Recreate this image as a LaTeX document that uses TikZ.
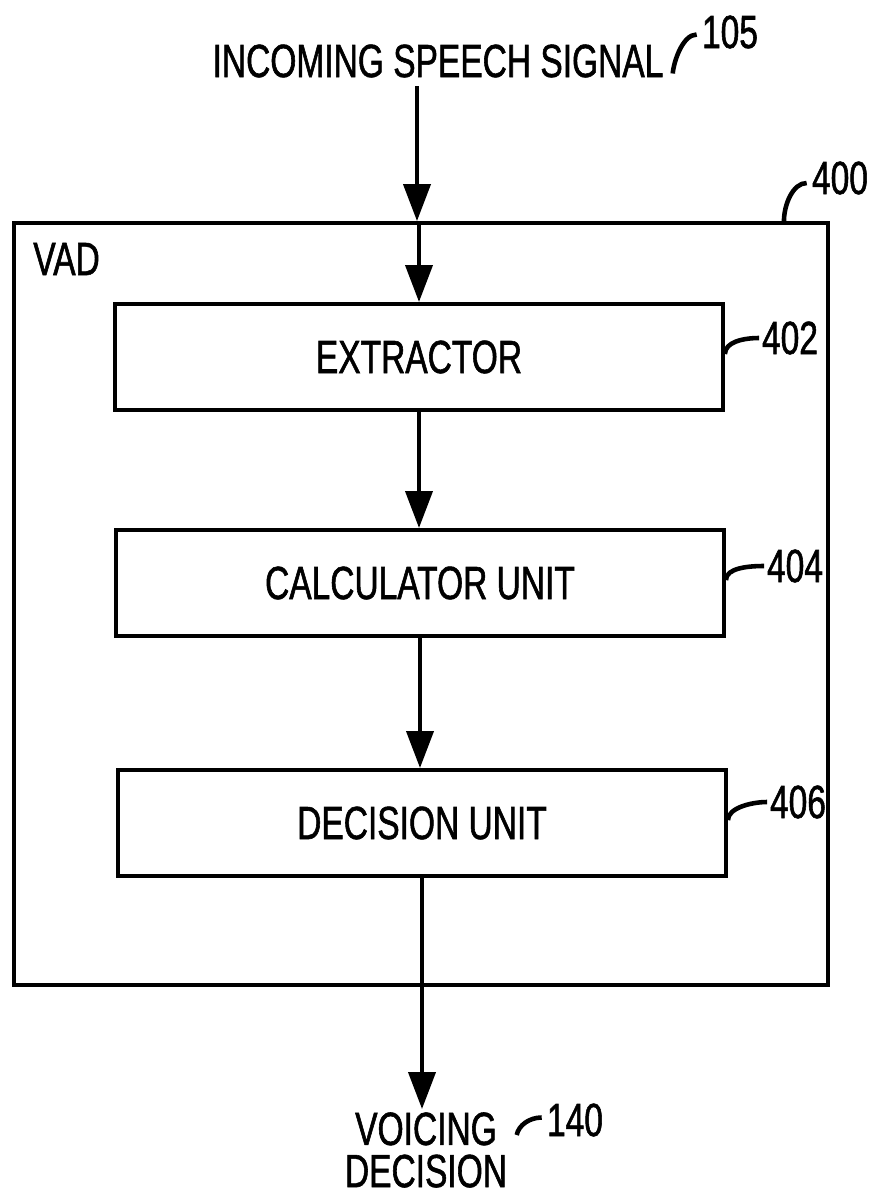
\documentclass[tikz,border=0pt]{standalone}
\usepackage{fontspec}
\setmainfont[FakeStretch=0.72,FakeBold=1.2]{Liberation Sans}
\usetikzlibrary{arrows.meta,calc}
\begin{document}
\begin{tikzpicture}[x=0.02cm,y=-0.02cm,
  every node/.style={font=\fontsize{26.5}{24}\selectfont, inner sep=0pt},
  blk/.style={draw, line width=2.3pt, minimum width=12.16cm, minimum height=2.12cm},
  frame/.style={draw, line width=2.3pt, minimum width=16.28cm, minimum height=15.24cm},
  arr/.style={line width=2.3pt, -{Triangle[width=0.54cm,length=0.74cm]}},
  lead/.style={line width=2.6pt}
]
\useasboundingbox (0,0) rectangle (877,1201);
\node[frame] (vad) at (421,604) {};
\node[anchor=west] (vadlbl) at (33,259) {VAD};
\node[blk] (ext) at (419,357) {EXTRACTOR};
\node[blk] (calc) at (420,583) {CALCULATOR UNIT};
\node[blk] (dec) at (422,823) {DECISION UNIT};
\node (in) at (438,61) {INCOMING SPEECH SIGNAL};
\node[align=center] (out) at (426,1150) {VOICING\\DECISION};
\coordinate (tip) at (422,1109);
\coordinate (src) at (417,86);

\draw[arr] (src) -- (src |- vad.north);
\draw[arr] (ext.north |- vad.north) -- (ext.north);
\draw[arr] (ext.south) -- (ext.south |- calc.north);
\draw[arr] (calc.south) -- (calc.south |- dec.north);
\draw[arr] (dec.south) -- (dec.south |- tip);

\node (n105) at (730,32) {105};
\node (n400) at (840,178) {400};
\node (n402) at (790,338) {402};
\node (n404) at (795,566) {404};
\node (n406) at (798,802) {406};
\node (n140) at (575,1120) {140};

\draw[lead] ([xshift=0.18cm,yshift=-0.25cm]in.east) .. controls +(1,-12) and +(-14,0) .. ([xshift=-0.1cm,yshift=-0.05cm]n105.west);
\draw[lead] ([xshift=-0.92cm]vad.north east) .. controls +(0,-16) and +(-14,0) .. ([xshift=-0.1cm,yshift=-0.1cm]n400.west);
\draw[lead] ([yshift=0.06cm]ext.east) .. controls +(0,-12) and +(-16,0) .. ([xshift=-0.05cm]n402.west);
\draw[lead] ([yshift=0.06cm]calc.east) .. controls +(0,-12) and +(-16,0) .. ([xshift=-0.05cm]n404.west);
\draw[lead] ([yshift=0.06cm]dec.east) .. controls +(0,-12) and +(-16,0) .. ([xshift=-0.05cm]n406.west);
\draw[lead] ([xshift=-0.6cm,yshift=-0.3cm]n140.west) .. controls +(2,-10) and +(-12,0) .. ([xshift=-0.1cm,yshift=0.05cm]n140.west);
\end{tikzpicture}
\end{document}
